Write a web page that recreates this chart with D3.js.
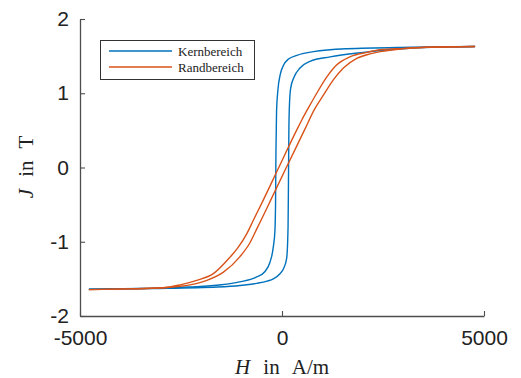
<!doctype html>
<html>
<head>
  <meta charset="UTF-8">
  <title>Hysterese</title>
  <script src="https://cdn.jsdelivr.net/npm/d3@7/dist/d3.min.js"></script>
  <style>
    body { margin: 0; background: #fff; }
    svg { display: block; }
  </style>
</head>
<body>
<div id="chart"></div>
<script>
  // Kernbereich, absteigender Ast (H von + nach -)
  var kernDownH = [4780, 3200, 1600, 780, 370, 160, 40, -40, -100, -135, -150, -160, -175, -215, -300, -420, -650, -1050, -1500, -2300, -3500, -4780];
  var kernDownJ = [1.63, 1.62, 1.60, 1.56, 1.51, 1.46, 1.38, 1.26, 1.05, 0.75, 0.2, -0.5, -0.85, -1.07, -1.28, -1.40, -1.48, -1.54, -1.58, -1.61, -1.63, -1.64];
  // Kernbereich, aufsteigender Ast
  var kernUpH = [-4780, -3200, -1600, -1040, -626, -370, -215, -50, 40, 116, 150, 160, 170, 185, 215, 300, 446, 693, 1190, 2010, 3240, 4780];
  var kernUpJ = [-1.64, -1.63, -1.61, -1.59, -1.56, -1.53, -1.50, -1.43, -1.36, -1.22, -0.8, -0.2, 0.5, 0.85, 1.07, 1.22, 1.34, 1.43, 1.49, 1.55, 1.61, 1.63];

  // Randbereich, absteigender Ast
  var randDownH = [4780, 3580, 3000, 2430, 2100, 1680, 1350, 1110, 860, 650, 490, 360, -80, -500, -700, -870, -1090, -1290, -1700, -2110, -2520, -2950, -3800, -4780];
  var randDownJ = [1.63, 1.62, 1.605, 1.585, 1.55, 1.49, 1.38, 1.22, 1.0, 0.80, 0.64, 0.50, 0.0, -0.48, -0.70, -0.89, -1.08, -1.21, -1.43, -1.52, -1.58, -1.62, -1.635, -1.645];
  // Randbereich, aufsteigender Ast
  var randUpH = [-4780, -3800, -2950, -2520, -2100, -1860, -1450, -1040, -800, -600, -420, -280, 107, 570, 800, 1020, 1270, 1520, 1850, 2180, 2430, 3000, 3580, 4780];
  var randUpJ = [-1.645, -1.635, -1.62, -1.60, -1.56, -1.52, -1.41, -1.20, -1.02, -0.80, -0.60, -0.44, 0.0, 0.52, 0.78, 0.97, 1.18, 1.34, 1.47, 1.53, 1.56, 1.60, 1.62, 1.63];

  var seriesNames = ["Kernbereich", "Randbereich"];
  var xTicks = [-5000, 0, 5000];
  var yTicks = [-2, -1, 0, 1, 2];

  var w = 521, h = 378,
    colors = ["#0072BD", "#D95319"],
    axisColor = "#4d4d4d";

  var x = d3.scaleLinear().domain([-5000, 5000]).range([80, 484]),
    y = d3.scaleLinear().domain([-2, 2]).range([316, 19]);

  var svg = d3.select("#chart").append("svg")
    .attr("width", w)
    .attr("height", h);

  // pair up H and J, sorted by H so the monotone curve works
  function zip(hs, js) {
    return hs.map(function(d, i) { return [d, js[i]]; })
      .sort(function(a, b) { return a[0] - b[0]; });
  }

  var line = d3.line()
    .x(function(d) { return x(d[0]); })
    .y(function(d) { return y(d[1]); })
    .curve(d3.curveMonotoneX);

  var series = [
    { name: seriesNames[0], color: colors[0], branches: [zip(kernDownH, kernDownJ), zip(kernUpH, kernUpJ)] },
    { name: seriesNames[1], color: colors[1], branches: [zip(randDownH, randDownJ), zip(randUpH, randUpJ)] }
  ];

  series.forEach(function(s) {
    svg.selectAll(null)
      .data(s.branches)
      .enter().append("path")
      .attr("d", line)
      .attr("fill", "none")
      .attr("stroke", s.color)
      .attr("stroke-width", 1.4);
  });

  // axes (left + bottom only, ticks inward)
  var fmt = function(d) { return String(d); };
  var xAxis = d3.axisBottom(x).tickValues(xTicks).tickSizeInner(-5).tickSizeOuter(0).tickFormat(fmt);
  var yAxis = d3.axisLeft(y).tickValues(yTicks).tickSizeInner(-5).tickSizeOuter(0).tickFormat(fmt);

  var gx = svg.append("g").attr("transform", "translate(0," + y(-2) + ")").call(xAxis);
  var gy = svg.append("g").attr("transform", "translate(" + x(-5000) + ",0)").call(yAxis);

  [gx, gy].forEach(function(g) {
    g.select(".domain").attr("stroke", axisColor).attr("stroke-width", 1.3);
    g.selectAll(".tick line").attr("stroke", axisColor).attr("stroke-width", 1.1);
    g.selectAll(".tick text")
      .attr("fill", "#222")
      .style("font-family", "'Liberation Sans', Arial, sans-serif")
      .style("font-size", "21px");
  });
  gx.selectAll(".tick text").attr("y", 14);
  gy.selectAll(".tick text").attr("x", -11);

  // axis labels
  var xl = svg.append("text")
    .attr("x", 282).attr("y", 374)
    .attr("text-anchor", "middle")
    .attr("fill", "#222")
    .style("font-family", "'Liberation Serif', 'DejaVu Serif', serif")
    .style("font-size", "21px")
    .style("word-spacing", "8px");
  xl.append("tspan").style("font-style", "italic").text("H");
  xl.append("tspan").text(" in A/m");

  var yl = svg.append("text")
    .attr("transform", "translate(33,167) rotate(-90)")
    .attr("text-anchor", "middle")
    .attr("fill", "#222")
    .style("font-family", "'Liberation Serif', 'DejaVu Serif', serif")
    .style("font-size", "21px")
    .style("word-spacing", "7px");
  yl.append("tspan").style("font-style", "italic").text("J");
  yl.append("tspan").text(" in T");

  // legend
  var lg = svg.append("g");
  lg.append("rect")
    .attr("x", 100.5).attr("y", 40.5)
    .attr("width", 154).attr("height", 39)
    .attr("fill", "#fff")
    .attr("stroke", "#333")
    .attr("stroke-width", 1);
  series.forEach(function(s, i) {
    var ly = 51 + i * 16;
    lg.append("line")
      .attr("x1", 109).attr("x2", 172)
      .attr("y1", ly).attr("y2", ly)
      .attr("stroke", s.color)
      .attr("stroke-width", 1.4);
    lg.append("text")
      .attr("x", 178).attr("y", ly + 4.5)
      .attr("fill", "#222")
      .style("font-family", "'Liberation Serif', 'DejaVu Serif', serif")
      .style("font-size", "13px")
      .text(s.name);
  });
</script>
</body>
</html>
